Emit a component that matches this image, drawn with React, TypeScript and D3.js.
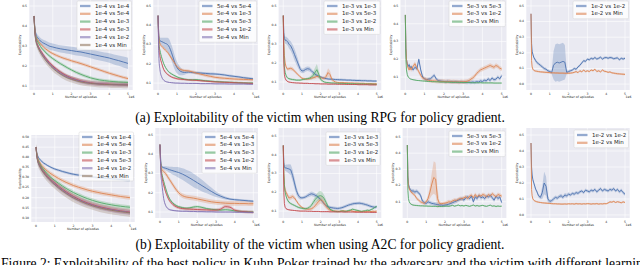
import React from "react";
import * as d3 from "d3";

// seaborn "deep" colours, in legend order
const PALETTE = ["#4C72B0", "#DD8452", "#55A868", "#C44E52", "#8172B3", "#937860"];

// x positions (millions of episodes) the curves were read at
const GRID_C = [0, 0.05, 0.1, 0.2, 0.3, 0.4, 0.5, 0.6, 0.7, 0.8, 0.9, 1.0, 1.2, 1.4, 1.6, 1.8, 2.0,
  2.25, 2.5, 2.75, 3.0, 3.25, 3.5, 3.75, 4.0, 4.25, 4.5, 4.75, 5.0];
const GRID_F = [0, 0.03, 0.06, 0.1, 0.15, 0.2, 0.25, 0.3, ...d3.range(4, 51).map((i) => i / 10)];

const X_TICKS = [0, 1, 2, 3, 4, 5];
const Y_TICKS_A = [0.1, 0.2, 0.3, 0.4, 0.5];
const Y_TICKS_B = [0.0, 0.1, 0.2, 0.3, 0.4, 0.5];
const Y_TICKS_C = [0.1, 0.15, 0.2, 0.25, 0.3, 0.35, 0.4, 0.45, 0.5];

const CAPTION_A = "(a) Exploitability of the victim when using RPG for policy gradient.";
const CAPTION_B = "(b) Exploitability of the victim when using A2C for policy gradient.";
const CAPTION_FIG = "Figure 2: Exploitability of the best policy in Kuhn Poker trained by the adversary and the victim with different learning rates.";

interface Series {
  label: string;
  mean: number[];
  sd: number | number[];
}

// ---------- RPG ----------
const rpg1e4: Series[] = [
  { label: "1e-4 vs 1e-4", mean: [0.45, 0.39, 0.36, 0.34, 0.33, 0.32, 0.315, 0.31, 0.305, 0.3, 0.297, 0.295, 0.29, 0.286, 0.283, 0.28, 0.277, 0.273, 0.27, 0.265, 0.26, 0.255, 0.25, 0.245, 0.24, 0.233, 0.227, 0.22, 0.213],
    sd: [0, 0.01, 0.012, 0.015, 0.015, 0.016, 0.016, 0.017, 0.017, 0.017, 0.018, 0.018, 0.018, 0.018, 0.018, 0.019, 0.019, 0.02, 0.02, 0.02, 0.021, 0.022, 0.022, 0.023, 0.024, 0.025, 0.026, 0.027, 0.028] },
  { label: "1e-4 vs 5e-4", mean: [0.45, 0.38, 0.35, 0.33, 0.315, 0.305, 0.295, 0.287, 0.28, 0.273, 0.267, 0.262, 0.253, 0.245, 0.238, 0.232, 0.226, 0.219, 0.212, 0.204, 0.196, 0.188, 0.18, 0.172, 0.164, 0.157, 0.15, 0.143, 0.137], sd: 0.008 },
  { label: "1e-4 vs 1e-3", mean: [0.45, 0.375, 0.345, 0.32, 0.305, 0.29, 0.28, 0.27, 0.26, 0.252, 0.244, 0.237, 0.224, 0.212, 0.201, 0.19, 0.18, 0.168, 0.158, 0.149, 0.141, 0.135, 0.13, 0.127, 0.124, 0.122, 0.12, 0.119, 0.118], sd: 0.008 },
  { label: "1e-4 vs 5e-3", mean: [0.45, 0.37, 0.335, 0.305, 0.285, 0.27, 0.255, 0.242, 0.23, 0.219, 0.209, 0.2, 0.184, 0.17, 0.158, 0.148, 0.14, 0.132, 0.125, 0.12, 0.116, 0.113, 0.111, 0.11, 0.109, 0.108, 0.107, 0.107, 0.106], sd: 0.01 },
  { label: "1e-4 vs 1e-2", mean: [0.45, 0.365, 0.33, 0.3, 0.28, 0.264, 0.25, 0.237, 0.225, 0.214, 0.204, 0.195, 0.179, 0.165, 0.154, 0.145, 0.137, 0.129, 0.123, 0.118, 0.114, 0.112, 0.11, 0.109, 0.108, 0.107, 0.106, 0.106, 0.105], sd: 0.01 },
  { label: "1e-4 vs Min", mean: [0.45, 0.36, 0.325, 0.295, 0.275, 0.258, 0.244, 0.231, 0.219, 0.208, 0.198, 0.189, 0.173, 0.16, 0.149, 0.14, 0.133, 0.126, 0.12, 0.116, 0.113, 0.111, 0.109, 0.108, 0.107, 0.106, 0.106, 0.105, 0.105], sd: 0.016 },
];

const rpg5e4: Series[] = [
  { label: "5e-4 vs 5e-4", mean: [0.45, 0.34, 0.32, 0.315, 0.31, 0.305, 0.3, 0.285, 0.26, 0.23, 0.2, 0.18, 0.16, 0.155, 0.157, 0.155, 0.153, 0.152, 0.15, 0.148, 0.147, 0.145, 0.142, 0.138, 0.135, 0.132, 0.128, 0.125, 0.122],
    sd: [0, 0.01, 0.015, 0.02, 0.025, 0.03, 0.035, 0.04, 0.04, 0.04, 0.035, 0.03, 0.02, 0.012, 0.008, 0.007, 0.007, 0.007, 0.007, 0.007, 0.007, 0.006, 0.006, 0.006, 0.006, 0.006, 0.006, 0.006, 0.006] },
  { label: "5e-4 vs 1e-3", mean: [0.45, 0.33, 0.305, 0.29, 0.28, 0.27, 0.26, 0.245, 0.23, 0.215, 0.2, 0.185, 0.17, 0.165, 0.163, 0.158, 0.152, 0.146, 0.14, 0.135, 0.13, 0.127, 0.125, 0.123, 0.121, 0.12, 0.119, 0.118, 0.117], sd: 0.008 },
  { label: "5e-4 vs 5e-3", mean: [0.45, 0.3, 0.27, 0.23, 0.2, 0.18, 0.165, 0.155, 0.148, 0.142, 0.137, 0.132, 0.125, 0.12, 0.118, 0.117, 0.118, 0.115, 0.112, 0.11, 0.108, 0.107, 0.105, 0.104, 0.103, 0.102, 0.101, 0.1, 0.1], sd: 0.005 },
  { label: "5e-4 vs 1e-2", mean: [0.45, 0.28, 0.24, 0.2, 0.17, 0.155, 0.145, 0.138, 0.132, 0.128, 0.125, 0.122, 0.12, 0.118, 0.116, 0.115, 0.114, 0.112, 0.11, 0.108, 0.106, 0.105, 0.104, 0.103, 0.102, 0.101, 0.1, 0.099, 0.098], sd: 0.005 },
  { label: "5e-4 vs Min", mean: [0.45, 0.22, 0.17, 0.13, 0.115, 0.108, 0.105, 0.103, 0.102, 0.101, 0.1, 0.1, 0.099, 0.099, 0.098, 0.098, 0.098, 0.097, 0.097, 0.097, 0.096, 0.096, 0.096, 0.095, 0.095, 0.095, 0.095, 0.094, 0.094], sd: 0.003 },
];

const rpg1e3: Series[] = [
  { label: "1e-3 vs 1e-3",
    mean: [0.45, 0.36, 0.33, 0.32, 0.32, 0.315, 0.31, 0.3,
      0.29, 0.27, 0.245, 0.22, 0.195, 0.17, 0.158,
      0.16, 0.167, 0.17, 0.168, 0.16, 0.15, 0.142, 0.135, 0.13, 0.127,
      0.123, 0.12, 0.118, 0.116, 0.115, 0.115, 0.114, 0.113, 0.113, 0.112,
      0.112, 0.111, 0.111, 0.11, 0.11, 0.11, 0.109, 0.109, 0.108, 0.108,
      0.108, 0.107, 0.107, 0.107, 0.106, 0.106, 0.106, 0.105, 0.105, 0.105],
    sd: [0, 0.01, 0.015, 0.018, 0.02, 0.02, 0.02, 0.022,
      0.025, 0.028, 0.03, 0.028, 0.022, 0.016, 0.012,
      0.012, 0.012, 0.012, 0.012, 0.011, 0.01, 0.009, 0.008, 0.007, 0.006,
      0.006, 0.006, 0.006, 0.006, 0.006, 0.006, 0.006, 0.006, 0.006, 0.006,
      0.006, 0.006, 0.006, 0.006, 0.006, 0.006, 0.006, 0.006, 0.006, 0.006,
      0.006, 0.006, 0.006, 0.006, 0.006, 0.006, 0.006, 0.006, 0.006, 0.006] },
  { label: "1e-3 vs 5e-3",
    mean: [0.45, 0.3, 0.24, 0.2, 0.18, 0.17, 0.168, 0.17,
      0.172, 0.168, 0.158, 0.148, 0.138, 0.128, 0.12,
      0.117, 0.115, 0.115, 0.117, 0.12, 0.123, 0.125, 0.13, 0.128, 0.124,
      0.12, 0.12, 0.13, 0.15, 0.14, 0.115, 0.105, 0.1, 0.098, 0.097,
      0.097, 0.097, 0.096, 0.096, 0.095, 0.095, 0.095, 0.094, 0.094, 0.094,
      0.093, 0.093, 0.093, 0.092, 0.092, 0.092, 0.092, 0.091, 0.091, 0.091],
    sd: [0, 0.01, 0.01, 0.008, 0.008, 0.008, 0.008, 0.008,
      0.01, 0.01, 0.008, 0.008, 0.006, 0.006, 0.006,
      0.006, 0.006, 0.006, 0.006, 0.008, 0.008, 0.01, 0.01, 0.01, 0.008,
      0.008, 0.01, 0.015, 0.022, 0.02, 0.012, 0.006, 0.004, 0.004, 0.004,
      0.004, 0.004, 0.004, 0.004, 0.004, 0.004, 0.004, 0.004, 0.004, 0.004,
      0.004, 0.004, 0.004, 0.004, 0.004, 0.004, 0.004, 0.004, 0.004, 0.004] },
  { label: "1e-3 vs 1e-2",
    mean: [0.45, 0.25, 0.18, 0.15, 0.135, 0.125, 0.12, 0.118,
      0.115, 0.113, 0.112, 0.11, 0.11, 0.11, 0.112,
      0.114, 0.116, 0.118, 0.12, 0.125, 0.135, 0.15, 0.165, 0.14, 0.115,
      0.105, 0.1, 0.098, 0.097, 0.096, 0.095, 0.095, 0.094, 0.094, 0.093,
      0.093, 0.093, 0.092, 0.092, 0.092, 0.091, 0.091, 0.091, 0.09, 0.09,
      0.09, 0.09, 0.09, 0.089, 0.089, 0.089, 0.089, 0.088, 0.088, 0.088],
    sd: [0, 0.01, 0.008, 0.006, 0.005, 0.005, 0.005, 0.005,
      0.005, 0.005, 0.005, 0.005, 0.005, 0.005, 0.005,
      0.005, 0.005, 0.006, 0.008, 0.012, 0.018, 0.025, 0.03, 0.02, 0.01,
      0.006, 0.004, 0.004, 0.004, 0.004, 0.004, 0.004, 0.004, 0.004, 0.004,
      0.004, 0.004, 0.004, 0.004, 0.004, 0.004, 0.004, 0.004, 0.004, 0.004,
      0.004, 0.004, 0.004, 0.004, 0.004, 0.004, 0.004, 0.004, 0.004, 0.004] },
  { label: "1e-3 vs Min",
    mean: [0.45, 0.2, 0.14, 0.12, 0.11, 0.105, 0.102, 0.1,
      0.098, 0.097, 0.096, 0.095, 0.095, 0.094, 0.094,
      0.093, 0.093, 0.093, 0.092, 0.092, 0.092, 0.091, 0.091, 0.091, 0.09,
      0.09, 0.09, 0.09, 0.089, 0.089, 0.089, 0.089, 0.089, 0.088, 0.088,
      0.088, 0.088, 0.088, 0.087, 0.087, 0.087, 0.087, 0.087, 0.087, 0.086,
      0.086, 0.086, 0.086, 0.086, 0.086, 0.085, 0.085, 0.085, 0.085, 0.085],
    sd: 0.003 },
];

const rpg5e3: Series[] = [
  { label: "5e-3 vs 5e-3",
    mean: [0.45, 0.26, 0.2, 0.175, 0.16, 0.17, 0.15, 0.16,
      0.14, 0.155, 0.145, 0.2, 0.14, 0.1, 0.09,
      0.085, 0.088, 0.09, 0.1, 0.11, 0.09, 0.08, 0.078, 0.076, 0.075,
      0.074, 0.076, 0.073, 0.074, 0.072, 0.073, 0.072, 0.071, 0.072, 0.071,
      0.071, 0.07, 0.071, 0.07, 0.072, 0.07, 0.074, 0.072, 0.078, 0.075,
      0.082, 0.078, 0.09, 0.08, 0.095, 0.085, 0.088, 0.1, 0.09, 0.108],
    sd: 0.01 },
  { label: "5e-3 vs 1e-2",
    mean: [0.45, 0.27, 0.2, 0.17, 0.15, 0.14, 0.155, 0.14,
      0.16, 0.175, 0.15, 0.13, 0.11, 0.095, 0.09,
      0.085, 0.082, 0.08, 0.079, 0.078, 0.077, 0.076, 0.076, 0.075, 0.075,
      0.074, 0.074, 0.075, 0.073, 0.074, 0.073, 0.073, 0.072, 0.074, 0.073,
      0.074, 0.076, 0.08, 0.088, 0.095, 0.105, 0.12, 0.13, 0.14, 0.145,
      0.15, 0.155, 0.16, 0.165, 0.16, 0.155, 0.165, 0.16, 0.15, 0.145],
    sd: 0.012 },
  { label: "5e-3 vs Min",
    mean: [0.45, 0.2, 0.14, 0.115, 0.1, 0.095, 0.09, 0.088,
      0.085, 0.083, 0.081, 0.08, 0.079, 0.078, 0.077,
      0.076, 0.075, 0.075, 0.074, 0.074, 0.073, 0.073, 0.072, 0.072, 0.072,
      0.071, 0.071, 0.071, 0.07, 0.07, 0.07, 0.07, 0.07, 0.069, 0.069,
      0.069, 0.069, 0.069, 0.068, 0.068, 0.068, 0.068, 0.068, 0.068, 0.067,
      0.067, 0.067, 0.067, 0.067, 0.067, 0.066, 0.066, 0.066, 0.066, 0.066],
    sd: 0.003 },
];

const rpg1e2: Series[] = [
  { label: "1e-2 vs 1e-2",
    mean: [0.45, 0.26, 0.21, 0.19, 0.17, 0.16, 0.15, 0.14,
      0.13, 0.12, 0.11, 0.1, 0.095, 0.085, 0.08,
      0.074, 0.12, 0.135, 0.14, 0.135, 0.14, 0.145, 0.14, 0.075, 0.08,
      0.085, 0.09, 0.1, 0.095, 0.11, 0.12, 0.135, 0.15, 0.145, 0.16,
      0.155, 0.165, 0.16, 0.17, 0.16, 0.165, 0.172, 0.16, 0.168, 0.17,
      0.165, 0.17, 0.168, 0.162, 0.165, 0.168, 0.155, 0.165, 0.16, 0.165],
    sd: [0, 0.01, 0.01, 0.01, 0.01, 0.01, 0.01, 0.01,
      0.01, 0.01, 0.01, 0.01, 0.01, 0.01, 0.01,
      0.01, 0.09, 0.12, 0.12, 0.12, 0.12, 0.12, 0.11, 0.01, 0.01,
      0.008, 0.008, 0.008, 0.008, 0.008, 0.008, 0.008, 0.008, 0.008, 0.008,
      0.008, 0.008, 0.008, 0.008, 0.008, 0.008, 0.008, 0.008, 0.008, 0.008,
      0.008, 0.008, 0.008, 0.008, 0.008, 0.008, 0.008, 0.008, 0.008, 0.008] },
  { label: "1e-2 vs Min",
    mean: [0.45, 0.15, 0.11, 0.095, 0.088, 0.085, 0.083, 0.082,
      0.08, 0.078, 0.077, 0.076, 0.075, 0.074, 0.073,
      0.072, 0.072, 0.071, 0.071, 0.07, 0.07, 0.07, 0.069, 0.069, 0.069,
      0.07, 0.072, 0.075, 0.08, 0.073, 0.085, 0.078, 0.09, 0.08, 0.085,
      0.08, 0.09, 0.085, 0.095, 0.08, 0.085, 0.078, 0.09, 0.082, 0.08,
      0.075, 0.078, 0.072, 0.07, 0.068, 0.066, 0.065, 0.064, 0.063, 0.062],
    sd: 0.006 },
];

// ---------- A2C ----------
const a2c1e4: Series[] = [
  { label: "1e-4 vs 1e-4", mean: [0.45, 0.42, 0.405, 0.39, 0.38, 0.372, 0.366, 0.36, 0.355, 0.35, 0.346, 0.342, 0.336, 0.33, 0.325, 0.32, 0.316, 0.312, 0.309, 0.306, 0.303, 0.3, 0.298, 0.296, 0.294, 0.292, 0.29, 0.288, 0.286], sd: 0.006 },
  { label: "1e-4 vs 5e-4", mean: [0.45, 0.415, 0.395, 0.375, 0.36, 0.35, 0.34, 0.332, 0.325, 0.318, 0.312, 0.306, 0.295, 0.285, 0.276, 0.268, 0.26, 0.252, 0.245, 0.238, 0.232, 0.227, 0.222, 0.218, 0.214, 0.21, 0.206, 0.203, 0.2], sd: 0.01 },
  { label: "1e-4 vs 1e-3", mean: [0.45, 0.41, 0.39, 0.368, 0.352, 0.34, 0.328, 0.318, 0.308, 0.3, 0.292, 0.285, 0.271, 0.258, 0.246, 0.235, 0.225, 0.214, 0.204, 0.195, 0.187, 0.18, 0.174, 0.169, 0.165, 0.161, 0.158, 0.155, 0.153], sd: 0.01 },
  { label: "1e-4 vs 5e-3", mean: [0.45, 0.405, 0.383, 0.36, 0.343, 0.33, 0.318, 0.307, 0.297, 0.288, 0.28, 0.272, 0.256, 0.242, 0.229, 0.217, 0.206, 0.194, 0.183, 0.174, 0.166, 0.159, 0.153, 0.148, 0.143, 0.139, 0.135, 0.132, 0.129], sd: 0.012 },
  { label: "1e-4 vs 1e-2", mean: [0.45, 0.403, 0.38, 0.357, 0.34, 0.326, 0.314, 0.303, 0.293, 0.284, 0.276, 0.268, 0.252, 0.238, 0.225, 0.213, 0.202, 0.19, 0.18, 0.171, 0.163, 0.156, 0.15, 0.145, 0.141, 0.137, 0.133, 0.13, 0.127], sd: 0.012 },
  { label: "1e-4 vs Min", mean: [0.45, 0.4, 0.377, 0.354, 0.337, 0.323, 0.311, 0.3, 0.29, 0.281, 0.272, 0.264, 0.248, 0.234, 0.221, 0.209, 0.198, 0.187, 0.177, 0.168, 0.16, 0.153, 0.147, 0.142, 0.138, 0.134, 0.131, 0.128, 0.125], sd: 0.02 },
];

const a2c5e4: Series[] = [
  { label: "5e-4 vs 5e-4", mean: [0.45, 0.36, 0.335, 0.33, 0.327, 0.324, 0.32, 0.317, 0.314, 0.311, 0.308, 0.305, 0.297, 0.287, 0.276, 0.264, 0.252, 0.237, 0.222, 0.207, 0.193, 0.182, 0.173, 0.167, 0.164, 0.162, 0.16, 0.158, 0.156],
    sd: [0, 0.005, 0.006, 0.008, 0.01, 0.012, 0.015, 0.018, 0.02, 0.022, 0.025, 0.027, 0.03, 0.033, 0.035, 0.035, 0.033, 0.03, 0.025, 0.02, 0.015, 0.01, 0.008, 0.006, 0.006, 0.006, 0.006, 0.006, 0.006] },
  { label: "5e-4 vs 1e-3", mean: [0.45, 0.34, 0.32, 0.31, 0.3, 0.285, 0.27, 0.255, 0.24, 0.225, 0.212, 0.2, 0.185, 0.178, 0.175, 0.172, 0.168, 0.163, 0.158, 0.153, 0.15, 0.148, 0.146, 0.145, 0.145, 0.144, 0.144, 0.143, 0.143], sd: 0.012 },
  { label: "5e-4 vs 5e-3", mean: [0.45, 0.33, 0.3, 0.26, 0.225, 0.195, 0.172, 0.157, 0.146, 0.138, 0.132, 0.128, 0.123, 0.12, 0.122, 0.126, 0.128, 0.124, 0.118, 0.114, 0.112, 0.11, 0.112, 0.11, 0.106, 0.104, 0.102, 0.101, 0.1], sd: 0.006 },
  { label: "5e-4 vs 1e-2", mean: [0.45, 0.32, 0.285, 0.24, 0.205, 0.18, 0.16, 0.148, 0.138, 0.131, 0.126, 0.122, 0.118, 0.116, 0.115, 0.114, 0.113, 0.112, 0.111, 0.11, 0.11, 0.115, 0.128, 0.125, 0.11, 0.104, 0.102, 0.1, 0.099], sd: 0.008 },
  { label: "5e-4 vs Min", mean: [0.45, 0.3, 0.25, 0.17, 0.135, 0.12, 0.113, 0.11, 0.108, 0.107, 0.106, 0.105, 0.104, 0.104, 0.103, 0.103, 0.102, 0.102, 0.101, 0.101, 0.1, 0.1, 0.1, 0.1, 0.099, 0.099, 0.099, 0.098, 0.098], sd: 0.004 },
];

const a2c1e3: Series[] = [
  { label: "1e-3 vs 1e-3",
    mean: [0.45, 0.36, 0.335, 0.33, 0.33, 0.328, 0.326, 0.325,
      0.32, 0.29, 0.25, 0.21, 0.185, 0.172, 0.17,
      0.172, 0.176, 0.182, 0.188, 0.192, 0.19, 0.185, 0.18, 0.172, 0.162,
      0.15, 0.138, 0.128, 0.122, 0.12, 0.118, 0.116, 0.115, 0.114, 0.115,
      0.117, 0.12, 0.124, 0.128, 0.132, 0.135, 0.138, 0.14, 0.141, 0.142,
      0.142, 0.14, 0.138, 0.135, 0.132, 0.128, 0.125, 0.122, 0.12, 0.122],
    sd: [0, 0.01, 0.012, 0.015, 0.018, 0.02, 0.022, 0.025,
      0.028, 0.03, 0.028, 0.022, 0.015, 0.01, 0.008,
      0.008, 0.009, 0.01, 0.011, 0.012, 0.012, 0.011, 0.01, 0.009, 0.008,
      0.008, 0.008, 0.008, 0.008, 0.008, 0.008, 0.008, 0.008, 0.008, 0.008,
      0.008, 0.008, 0.008, 0.008, 0.008, 0.008, 0.008, 0.008, 0.008, 0.008,
      0.008, 0.008, 0.008, 0.008, 0.008, 0.008, 0.008, 0.008, 0.008, 0.008] },
  { label: "1e-3 vs 5e-3",
    mean: [0.45, 0.3, 0.24, 0.21, 0.2, 0.19, 0.18, 0.17,
      0.172, 0.178, 0.17, 0.155, 0.14, 0.128, 0.12,
      0.115, 0.112, 0.11, 0.11, 0.112, 0.118, 0.128, 0.14, 0.152, 0.16,
      0.155, 0.14, 0.125, 0.112, 0.105, 0.102, 0.1, 0.1, 0.099, 0.098,
      0.1, 0.102, 0.1, 0.098, 0.1, 0.103, 0.1, 0.097, 0.098, 0.1,
      0.098, 0.097, 0.099, 0.096, 0.098, 0.1, 0.097, 0.099, 0.098, 0.1],
    sd: [0, 0.01, 0.012, 0.012, 0.012, 0.012, 0.012, 0.012,
      0.012, 0.012, 0.01, 0.008, 0.007, 0.006, 0.006,
      0.006, 0.006, 0.006, 0.006, 0.008, 0.01, 0.012, 0.015, 0.018, 0.02,
      0.02, 0.018, 0.014, 0.01, 0.007, 0.006, 0.005, 0.005, 0.005, 0.005,
      0.005, 0.005, 0.005, 0.005, 0.005, 0.005, 0.005, 0.005, 0.005, 0.005,
      0.005, 0.005, 0.005, 0.005, 0.005, 0.005, 0.005, 0.005, 0.005, 0.005] },
  { label: "1e-3 vs 1e-2",
    mean: [0.45, 0.3, 0.24, 0.2, 0.18, 0.165, 0.155, 0.148,
      0.14, 0.135, 0.13, 0.125, 0.12, 0.117, 0.115,
      0.113, 0.113, 0.115, 0.12, 0.13, 0.145, 0.16, 0.172, 0.18, 0.182,
      0.178, 0.165, 0.145, 0.125, 0.11, 0.105, 0.1, 0.098, 0.097, 0.098,
      0.1, 0.1, 0.098, 0.1, 0.103, 0.105, 0.11, 0.108, 0.105, 0.103,
      0.1, 0.098, 0.1, 0.102, 0.105, 0.103, 0.108, 0.112, 0.12, 0.125],
    sd: [0, 0.01, 0.01, 0.01, 0.008, 0.008, 0.008, 0.007,
      0.006, 0.006, 0.006, 0.006, 0.006, 0.006, 0.006,
      0.006, 0.006, 0.007, 0.008, 0.01, 0.014, 0.018, 0.022, 0.025, 0.025,
      0.022, 0.018, 0.014, 0.01, 0.007, 0.006, 0.005, 0.005, 0.005, 0.005,
      0.005, 0.005, 0.005, 0.005, 0.005, 0.005, 0.005, 0.005, 0.005, 0.005,
      0.005, 0.005, 0.005, 0.005, 0.005, 0.005, 0.005, 0.005, 0.005, 0.005] },
  { label: "1e-3 vs Min",
    mean: [0.45, 0.2, 0.14, 0.12, 0.113, 0.11, 0.108, 0.107,
      0.105, 0.104, 0.103, 0.102, 0.101, 0.1, 0.1,
      0.1, 0.1, 0.099, 0.099, 0.099, 0.098, 0.098, 0.098, 0.098, 0.097,
      0.097, 0.097, 0.097, 0.097, 0.096, 0.096, 0.096, 0.096, 0.096, 0.096,
      0.096, 0.095, 0.095, 0.095, 0.095, 0.095, 0.095, 0.095, 0.094, 0.094,
      0.094, 0.094, 0.094, 0.094, 0.094, 0.094, 0.093, 0.093, 0.093, 0.093],
    sd: 0.003 },
];

const a2c5e3: Series[] = [
  { label: "5e-3 vs 5e-3",
    mean: [0.45, 0.26, 0.21, 0.19, 0.175, 0.17, 0.165, 0.168,
      0.16, 0.165, 0.155, 0.14, 0.105, 0.095, 0.09,
      0.1, 0.095, 0.09, 0.088, 0.085, 0.083, 0.08, 0.08, 0.078, 0.08,
      0.082, 0.085, 0.09, 0.095, 0.1, 0.105, 0.11, 0.115, 0.12, 0.11,
      0.125, 0.13, 0.12, 0.135, 0.1, 0.13, 0.12, 0.14, 0.125, 0.13,
      0.12, 0.135, 0.13, 0.14, 0.125, 0.11, 0.135, 0.12, 0.13, 0.095],
    sd: 0.012 },
  { label: "5e-3 vs 1e-2",
    mean: [0.45, 0.25, 0.2, 0.18, 0.17, 0.16, 0.155, 0.15,
      0.14, 0.12, 0.11, 0.1, 0.095, 0.09, 0.1,
      0.12, 0.16, 0.21, 0.25, 0.24, 0.12, 0.09, 0.088, 0.09, 0.092,
      0.095, 0.1, 0.098, 0.105, 0.11, 0.108, 0.115, 0.12, 0.118, 0.125,
      0.13, 0.12, 0.135, 0.14, 0.125, 0.145, 0.13, 0.14, 0.135, 0.145,
      0.14, 0.13, 0.145, 0.135, 0.15, 0.14, 0.13, 0.145, 0.14, 0.135],
    sd: [0, 0.01, 0.01, 0.01, 0.01, 0.01, 0.01, 0.01,
      0.01, 0.01, 0.01, 0.01, 0.01, 0.01, 0.012,
      0.02, 0.04, 0.07, 0.1, 0.1, 0.06, 0.015, 0.01, 0.01, 0.01,
      0.012, 0.012, 0.012, 0.012, 0.012, 0.012, 0.012, 0.012, 0.012, 0.012,
      0.012, 0.012, 0.012, 0.012, 0.012, 0.012, 0.012, 0.012, 0.012, 0.012,
      0.012, 0.012, 0.012, 0.012, 0.012, 0.012, 0.012, 0.012, 0.012, 0.012] },
  { label: "5e-3 vs Min",
    mean: [0.45, 0.17, 0.12, 0.1, 0.09, 0.085, 0.082, 0.08,
      0.078, 0.077, 0.076, 0.075, 0.075, 0.074, 0.074,
      0.073, 0.073, 0.072, 0.072, 0.072, 0.071, 0.071, 0.071, 0.072, 0.073,
      0.074, 0.072, 0.075, 0.078, 0.073, 0.076, 0.08, 0.075, 0.077, 0.074,
      0.078, 0.075, 0.072, 0.076, 0.08, 0.074, 0.077, 0.073, 0.076, 0.078,
      0.074, 0.072, 0.076, 0.079, 0.073, 0.075, 0.071, 0.074, 0.072, 0.073],
    sd: 0.004 },
];

const a2c1e2: Series[] = [
  { label: "1e-2 vs 1e-2",
    mean: [0.45, 0.3, 0.25, 0.22, 0.2, 0.18, 0.16, 0.15,
      0.12, 0.11, 0.14, 0.2, 0.18, 0.1, 0.085,
      0.09, 0.1, 0.11, 0.105, 0.115, 0.12, 0.11, 0.125, 0.12, 0.13,
      0.125, 0.135, 0.13, 0.14, 0.135, 0.145, 0.15, 0.14, 0.155, 0.15,
      0.145, 0.155, 0.15, 0.16, 0.145, 0.155, 0.165, 0.15, 0.16, 0.155,
      0.15, 0.16, 0.155, 0.165, 0.15, 0.16, 0.145, 0.155, 0.14, 0.13],
    sd: [0, 0.01, 0.01, 0.01, 0.01, 0.01, 0.01, 0.01,
      0.01, 0.012, 0.04, 0.07, 0.06, 0.02, 0.012,
      0.012, 0.012, 0.012, 0.012, 0.012, 0.012, 0.012, 0.012, 0.012, 0.012,
      0.01, 0.01, 0.01, 0.01, 0.01, 0.01, 0.01, 0.01, 0.01, 0.01,
      0.01, 0.01, 0.01, 0.01, 0.01, 0.01, 0.01, 0.01, 0.01, 0.01,
      0.01, 0.01, 0.01, 0.01, 0.01, 0.01, 0.01, 0.01, 0.01, 0.01] },
  { label: "1e-2 vs Min",
    mean: [0.45, 0.16, 0.12, 0.1, 0.092, 0.088, 0.085, 0.083,
      0.08, 0.078, 0.076, 0.075, 0.074, 0.073, 0.072,
      0.071, 0.07, 0.07, 0.069, 0.069, 0.068, 0.068, 0.069, 0.068, 0.07,
      0.069, 0.07, 0.068, 0.071, 0.069, 0.07, 0.068, 0.07, 0.069, 0.071,
      0.07, 0.068, 0.07, 0.069, 0.071, 0.068, 0.07, 0.069, 0.071, 0.07,
      0.075, 0.082, 0.08, 0.085, 0.078, 0.083, 0.08, 0.076, 0.082, 0.078],
    sd: 0.005 },
];

// ---------- layout ----------
interface PanelSpec {
  id: string;
  series: Series[];
  grid: number[];
  smooth: boolean;
  x0: number; y0: number; w: number; h: number;
  yDomain: [number, number];
  yTicks: number[];
  yFmt: string;
  legendX: number;
  legendY: number;
}

const PANELS: PanelSpec[] = [
  { id: "a1", series: rpg1e4, grid: GRID_C, smooth: true, x0: 29.3, y0: 0, w: 103.4, h: 90, yDomain: [0.08, 0.53], yTicks: Y_TICKS_A, yFmt: ".1f", legendX: 80, legendY: 6 },
  { id: "a2", series: rpg5e4, grid: GRID_C, smooth: true, x0: 153.3, y0: 0, w: 104.5, h: 90, yDomain: [0.064, 0.531], yTicks: Y_TICKS_A, yFmt: ".1f", legendX: 202, legendY: 6 },
  { id: "a3", series: rpg1e3, grid: GRID_F, smooth: false, x0: 278.6, y0: 0, w: 102.7, h: 90, yDomain: [0.058, 0.532], yTicks: Y_TICKS_A, yFmt: ".1f", legendX: 327, legendY: 6 },
  { id: "a4", series: rpg5e3, grid: GRID_F, smooth: false, x0: 400.5, y0: 0, w: 106, h: 90, yDomain: [0.027, 0.534], yTicks: Y_TICKS_A, yFmt: ".1f", legendX: 452, legendY: 6 },
  { id: "a5", series: rpg1e2, grid: GRID_F, smooth: false, x0: 526.3, y0: 0, w: 103.4, h: 90, yDomain: [-0.038, 0.538], yTicks: Y_TICKS_B, yFmt: ".1f", legendX: 576, legendY: 6 },
  { id: "b1", series: a2c1e4, grid: GRID_C, smooth: true, x0: 31.3, y0: 135, w: 103.4, h: 87, yDomain: [0.08, 0.51], yTicks: Y_TICKS_C, yFmt: ".2f", legendX: 82, legendY: 137 },
  { id: "b2", series: a2c5e4, grid: GRID_C, smooth: true, x0: 155.3, y0: 128, w: 102.7, h: 90, yDomain: [0.069, 0.536], yTicks: Y_TICKS_A, yFmt: ".1f", legendX: 205, legendY: 137 },
  { id: "b3", series: a2c1e3, grid: GRID_F, smooth: false, x0: 278.6, y0: 128, w: 102.7, h: 90, yDomain: [0.063, 0.543], yTicks: Y_TICKS_A, yFmt: ".1f", legendX: 329, legendY: 137 },
  { id: "b4", series: a2c5e3, grid: GRID_F, smooth: false, x0: 402.6, y0: 128, w: 103.8, h: 90, yDomain: [0.0, 0.555], yTicks: Y_TICKS_A, yFmt: ".1f", legendX: 452, legendY: 136 },
  { id: "b5", series: a2c1e2, grid: GRID_F, smooth: false, x0: 526.3, y0: 128, w: 103.4, h: 90, yDomain: [-0.019, 0.544], yTicks: Y_TICKS_B, yFmt: ".1f", legendX: 577, legendY: 135 },
];

const SANS = "DejaVu Sans, sans-serif";
const SERIF = "Liberation Serif, Times New Roman, serif";
const TEXT = "#262626";

function Panel({ spec }: { spec: PanelSpec }) {
  const { x0, y0, w, h, grid } = spec;
  const xs = d3.scaleLinear().domain([-0.25, 5.25]).range([x0, x0 + w]);
  const ys = d3.scaleLinear().domain(spec.yDomain).range([y0 + h, y0]);
  const fmt = d3.format(spec.yFmt);
  const curve = spec.smooth ? d3.curveMonotoneX : d3.curveLinear;
  const clipId = `clip-${spec.id}`;

  const sdAt = (s: Series, i: number) => (typeof s.sd === "number" ? s.sd : s.sd[i] ?? 0);

  const rowH = 7.8;
  const boxX = spec.legendX - 3;
  const boxY = spec.legendY - 5;
  const boxW = x0 + w - 1.2 - boxX;
  const boxH = spec.series.length * rowH + 2.2;

  return (
    <g>
      <defs>
        <clipPath id={clipId}>
          <rect x={x0} y={y0} width={w} height={h} />
        </clipPath>
      </defs>
      <rect x={x0} y={y0} width={w} height={h} fill="#EAEAF2" />
      {X_TICKS.map((t) => (
        <line key={`gx${t}`} x1={xs(t)} x2={xs(t)} y1={y0} y2={y0 + h} stroke="#fff" strokeWidth={0.6} />
      ))}
      {spec.yTicks.map((t) => (
        <line key={`gy${t}`} x1={x0} x2={x0 + w} y1={ys(t)} y2={ys(t)} stroke="#fff" strokeWidth={0.6} />
      ))}
      <g clipPath={`url(#${clipId})`}>
        {spec.series.map((s, k) => {
          const n = Math.min(s.mean.length, grid.length);
          const idx = d3.range(n);
          const area = d3
            .area<number>()
            .curve(curve)
            .x((i) => xs(grid[i]))
            .y0((i) => ys(s.mean[i] - sdAt(s, i)))
            .y1((i) => ys(s.mean[i] + sdAt(s, i)));
          return <path key={`a${k}`} d={area(idx) ?? ""} fill={PALETTE[k]} opacity={0.28} />;
        })}
        {spec.series.map((s, k) => {
          const n = Math.min(s.mean.length, grid.length);
          const idx = d3.range(n);
          const line = d3
            .line<number>()
            .curve(curve)
            .x((i) => xs(grid[i]))
            .y((i) => ys(s.mean[i]));
          return <path key={`l${k}`} d={line(idx) ?? ""} fill="none" stroke={PALETTE[k]} strokeWidth={0.9} />;
        })}
      </g>
      {/* tick labels */}
      {X_TICKS.map((t) => (
        <text key={`tx${t}`} x={xs(t)} y={y0 + h + 4} fontSize={3.1} fill={TEXT} textAnchor="middle" dominantBaseline="middle" fontFamily={SANS}>
          {t}
        </text>
      ))}
      {spec.yTicks.map((t) => (
        <text key={`ty${t}`} x={x0 - 2.2} y={ys(t)} fontSize={3.1} fill={TEXT} textAnchor="end" dominantBaseline="middle" fontFamily={SANS}>
          {fmt(t)}
        </text>
      ))}
      <text x={x0 + w / 2} y={y0 + h + 7.4} fontSize={3.2} fill={TEXT} textAnchor="middle" dominantBaseline="middle" fontFamily={SANS}>
        Number of episodes
      </text>
      <text x={xs(5) + 3.5} y={y0 + h + 7.4} fontSize={3.1} fill={TEXT} textAnchor="middle" dominantBaseline="middle" fontFamily={SANS}>
        1e6
      </text>
      <text
        transform={`translate(${x0 - (spec.yFmt === ".2f" ? 11.5 : 9.5)},${y0 + h / 2}) rotate(-90)`}
        fontSize={3.2}
        fill={TEXT}
        textAnchor="middle"
        dominantBaseline="middle"
        fontFamily={SANS}
      >
        Exploitability
      </text>
      {/* legend */}
      <rect x={boxX} y={boxY} width={boxW} height={boxH} rx={1.2} fill="#fff" fillOpacity={0.8} stroke="#ccc" strokeWidth={0.4} />
      {spec.series.map((s, k) => {
        const cy = spec.legendY + k * rowH;
        return (
          <g key={`lg${k}`}>
            <line x1={spec.legendX} x2={spec.legendX + 10.5} y1={cy} y2={cy} stroke={PALETTE[k]} strokeWidth={2.3} strokeOpacity={0.6} />
            <text x={spec.legendX + 15} y={cy} fontSize={5.5} fill={TEXT} dominantBaseline="middle" fontFamily={SANS}>
              {s.label}
            </text>
          </g>
        );
      })}
    </g>
  );
}

export default function App() {
  return (
    <svg
      width={640}
      height={265}
      viewBox="0 0 640 265"
      style={{ position: "absolute", left: 0, top: 0, display: "block", background: "#fff" }}
    >
      {PANELS.map((p) => (
        <Panel key={p.id} spec={p} />
      ))}
      <text x={320} y={122} fontSize={13.6} textAnchor="middle" fontFamily={SERIF} fill="#000">
        {CAPTION_A}
      </text>
      <text x={320} y={249} fontSize={13.6} textAnchor="middle" fontFamily={SERIF} fill="#000">
        {CAPTION_B}
      </text>
      <text x={1} y={267.5} fontSize={13.6} fontFamily={SERIF} fill="#000">
        {CAPTION_FIG}
      </text>
    </svg>
  );
}
